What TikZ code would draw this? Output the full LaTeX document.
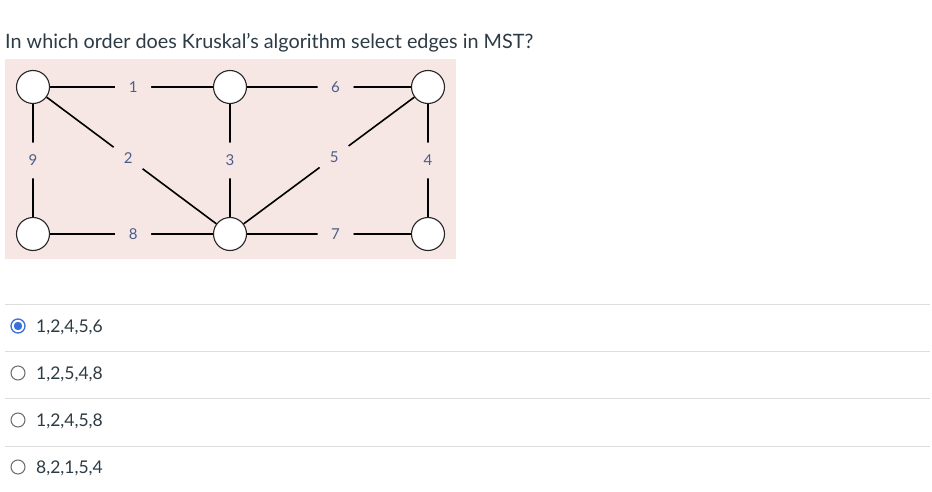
\documentclass[tikz,border=0pt]{standalone}
\usepackage{fontspec}
\setmainfont{Lato}
\definecolor{pinkbg}{HTML}{F6E7E5}
\definecolor{txt}{HTML}{2D3B45}
\definecolor{lab}{HTML}{4B5D8A}
\definecolor{sep}{HTML}{DDDDDD}
\definecolor{radioblue}{HTML}{3B6FD8}
\definecolor{radiogray}{HTML}{6B6B6B}
\tikzset{
  vert/.style={circle, draw=black!85, line width=1.1pt, fill=white, minimum size=33pt, inner sep=0pt},
  edge/.style={line width=1.6pt, black},
  wlab/.style={circle, fill=pinkbg, minimum size=36pt, inner sep=0pt, text=lab, font=\fontsize{15}{17}\selectfont},
  qtext/.style={anchor=base west, inner sep=0pt, text=txt, font=\fontsize{19.8}{23}\selectfont},
  opt/.style={anchor=base west, inner sep=0pt, text=txt, font=\fontsize{17.5}{20}\selectfont},
  seprule/.style={sep, line width=0.8pt},
  radio/.style={circle, draw=radiogray, line width=1pt, fill=white, minimum size=14pt, inner sep=0pt},
  radiosel/.style={circle, draw=radioblue, line width=1.3pt, fill=white, minimum size=14pt, inner sep=0pt},
}
\begin{document}
\begin{tikzpicture}[x=1pt,y=-1pt]
\path[use as bounding box, fill=white] (0,0) rectangle (932,492);
\node[qtext] (q) at (5,48.5) {In which order does Kruskal’s algorithm select edges in MST?};
\fill[pinkbg] (5,59) rectangle (456,259);
% vertices
\node[vert] (a) at (33,87) {};
\node[vert] (b) at (230,87) {};
\node[vert] (c) at (428,87) {};
\node[vert] (d) at (33,234) {};
\node[vert] (e) at (230,234) {};
\node[vert] (f) at (428,234) {};
% edges
\draw[edge] (a) -- node[wlab, pos=0.51]{1} (b);
\draw[edge] (b) -- node[wlab, pos=0.54]{6} (c);
\draw[edge] (a) -- node[wlab]{9} (d);
\draw[edge] (a) -- node[wlab, pos=0.48]{2} (e);
\draw[edge] (b) -- node[wlab]{3} (e);
\draw[edge] (c) -- node[wlab, pos=0.47]{5} (e);
\draw[edge] (c) -- node[wlab]{4} (f);
\draw[edge] (d) -- node[wlab, pos=0.51]{8} (e);
\draw[edge] (e) -- node[wlab, pos=0.54]{7} (f);
% separators
\coordinate (s1l) at (5,304); \coordinate (s1r) at (930,304);
\coordinate (s2l) at (5,351); \coordinate (s2r) at (930,351);
\coordinate (s3l) at (5,398); \coordinate (s3r) at (930,398);
\coordinate (s4l) at (5,446); \coordinate (s4r) at (930,446);
\draw[seprule] (s1l) -- (s1r);
\draw[seprule] (s2l) -- (s2r);
\draw[seprule] (s3l) -- (s3r);
\draw[seprule] (s4l) -- (s4r);
% options
\node[radiosel] (r1) at (18,326) {};
\fill[radioblue] (r1.center) circle (4.2);
\node[radio] (r2) at (18,373) {};
\node[radio] (r3) at (18,420) {};
\node[radio] (r4) at (18,467) {};
\node[opt] (o1) at (36,332.5) {1,2,4,5,6};
\node[opt] (o2) at (36,379.5) {1,2,5,4,8};
\node[opt] (o3) at (36,426.5) {1,2,4,5,8};
\node[opt] (o4) at (36,473.5) {8,2,1,5,4};
\end{tikzpicture}
\end{document}
